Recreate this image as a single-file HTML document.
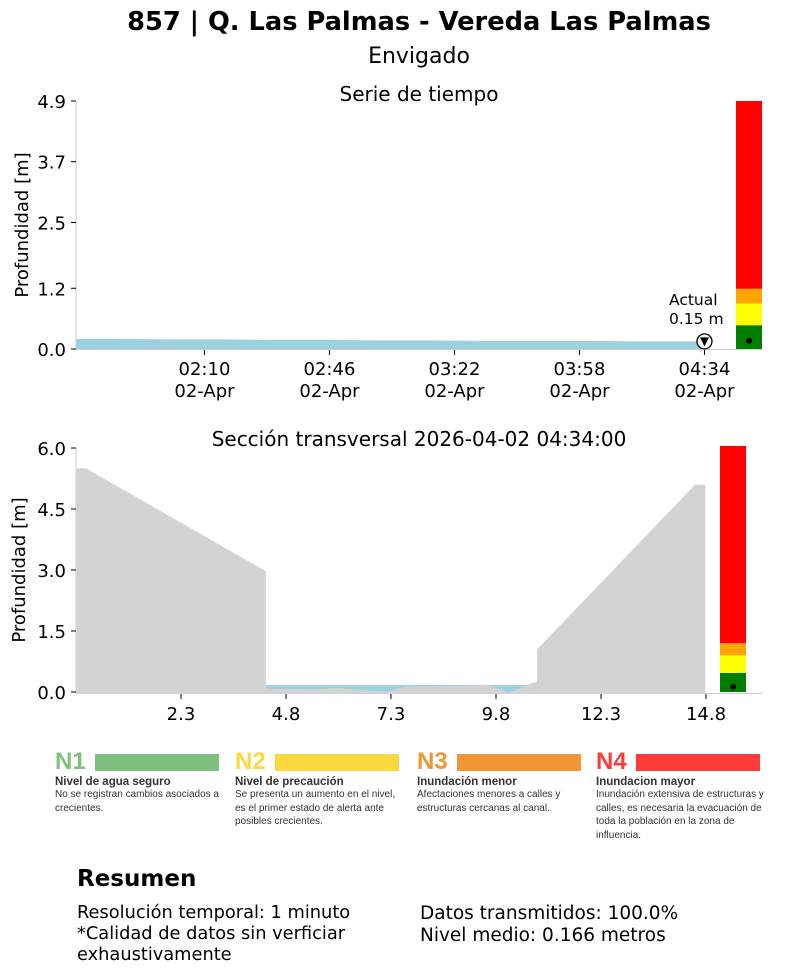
<!DOCTYPE html>
<html><head><meta charset="utf-8"><style>
body{margin:0;background:#fff;width:812px;height:973px;overflow:hidden;font-family:"DejaVu Sans","Liberation Sans",sans-serif;}
svg text{font-family:"DejaVu Sans","Liberation Sans",sans-serif;}
.lg{position:absolute;top:750px;width:170px;font-family:"Liberation Sans",sans-serif;}
.lg .n{font-size:24px;font-weight:bold;display:inline-block;width:40px;vertical-align:middle;line-height:24px}
.lg .bar{display:inline-block;width:124px;height:17px;vertical-align:middle}
.lg .h{font-size:11.5px;font-weight:bold;color:#333;margin-top:2px}
.lg .d{font-size:10px;color:#333;line-height:13.5px}
</style></head><body>
<svg id="chart" width="812" height="973" style="position:absolute;left:0;top:0">
<text x="419" y="30" text-anchor="middle" font-size="25.7" font-weight="bold">857 | Q. Las Palmas - Vereda Las Palmas</text>
<text x="419" y="63" text-anchor="middle" font-size="22">Envigado</text>
<text x="419" y="101" text-anchor="middle" font-size="20">Serie de tiempo</text>
<text x="419" y="446" text-anchor="middle" font-size="20">Sección transversal 2026-04-02 04:34:00</text>
<text transform="translate(28,225) rotate(-90)" text-anchor="middle" font-size="18">Profundidad [m]</text>
<text transform="translate(25,570) rotate(-90)" text-anchor="middle" font-size="18">Profundidad [m]</text>
<g id="ts"></g><g id="cs"></g>
</svg>

<div class="lg" style="left:55px"><span class="n" style="color:#7fc07f">N1</span><span class="bar" style="background:#7fc07f"></span><div class="h">Nivel de agua seguro</div><div class="d">No se registran cambios asociados a crecientes.</div></div>
<div class="lg" style="left:235px"><span class="n" style="color:#f9d93f">N2</span><span class="bar" style="background:#f9d93f"></span><div class="h">Nivel de precaución</div><div class="d">Se presenta un aumento en el nivel, es el primer estado de alerta ante posibles crecientes.</div></div>
<div class="lg" style="left:417px"><span class="n" style="color:#f29537">N3</span><span class="bar" style="background:#f29537"></span><div class="h">Inundación menor</div><div class="d">Afectaciones menores a calles y estructuras cercanas al canal.</div></div>
<div class="lg" style="left:596px;width:170px"><span class="n" style="color:#fd3b3b">N4</span><span class="bar" style="background:#fd3b3b"></span><div class="h">Inundacion mayor</div><div class="d">Inundación extensiva de estructuras y calles, es necesaria la evacuación de toda la población en la zona de influencia.</div></div>

<div style="position:absolute;left:77px;top:866px;font-size:23px;font-weight:bold">Resumen</div>
<div style="position:absolute;left:77px;top:902px;font-size:17.8px;line-height:21px">Resolución temporal: 1 minuto<br>*Calidad de datos sin verficiar<br>exhaustivamente</div>
<div style="position:absolute;left:420px;top:903px;font-size:18.5px;line-height:22px">Datos transmitidos: 100.0%<br>Nivel medio: 0.166 metros</div>

<script>
// time series (minutes from 00:00)
const tsTimes=[93,105,120,135,150,165,180,195,210,225,240,255,274];
const tsValues=[0.20,0.20,0.19,0.19,0.18,0.18,0.17,0.17,0.16,0.16,0.16,0.15,0.15];
const tsTickMins=[130,166,202,238,274];
const tsTickLabels=['02:10','02:46','03:22','03:58','04:34'];
const tsYTicks=[0.0,1.2,2.5,3.7,4.9];
const levels=[0.47,0.9,1.19,4.9];
const levelColors=['#008000','#ffff00','#ffa500','#ff0000'];
const currentValue=0.15;
// cross section
const groundX=[-0.2,0.04,4.32,4.32,5.5,6.0,7.2,7.6,9.3,9.6,10.1,10.6,10.78,10.78,14.54,14.78,14.78];
const groundY=[5.5,5.5,2.97,0.08,0.06,0.1,0.0,0.12,0.15,0.18,-0.02,0.2,0.25,1.05,5.1,5.1,0];
const csXTicks=[2.3,4.8,7.3,9.8,12.3,14.8];
const csYTicks=[0.0,1.5,3.0,4.5,6.0];
const waterLevel=0.17;
const csLevels=[0.47,0.9,1.2,6.05];

const NS='http://www.w3.org/2000/svg';
function mk(p,t,a){const e=document.createElementNS(NS,t);for(const k in a)e.setAttribute(k,a[k]);p.appendChild(e);return e;}
const tx=m=>76+(m-93)*(125/36), ty=v=>349-v*(248/4.9);
const ts=document.getElementById('ts');
let l=mk(ts,'line',{x1:76,y1:101,x2:76,y2:349,stroke:'#ccc'});

l=mk(ts,'line',{x1:76,y1:349.5,x2:762,y2:349.5,stroke:'#ccc'});

let d='M'+tx(tsTimes[0])+','+ty(0);
tsTimes.forEach((t,i)=>d+=' L'+tx(t)+','+ty(tsValues[i]));
d+=' L'+tx(tsTimes[tsTimes.length-1])+','+ty(0)+'Z';
let a=mk(ts,'path',{d:d,fill:'#9cd1e0'});

tsYTicks.forEach(v=>{mk(ts,'line',{x1:71,x2:76,y1:ty(v),y2:ty(v),stroke:'#000'});
 const t=mk(ts,'text',{x:66,y:ty(v)+7,'text-anchor':'end','font-size':18});t.textContent=v.toFixed(1);
 });
tsTickMins.forEach((m,i)=>{mk(ts,'line',{x1:tx(m),x2:tx(m),y1:350,y2:355,stroke:'#000'});
 const t=mk(ts,'text',{x:tx(m),y:375,'text-anchor':'middle','font-size':18});t.textContent=tsTickLabels[i];
 
 const t2=mk(ts,'text',{x:tx(m),y:397,'text-anchor':'middle','font-size':18});t2.textContent='02-Apr';
 });
let prev=0;levels.forEach((v,i)=>{const r=mk(ts,'rect',{x:736,width:26,y:ty(v),height:ty(prev)-ty(v),fill:levelColors[i]});
 prev=v;});
mk(ts,'circle',{cx:749,cy:ty(currentValue)-0.5,r:3,fill:'#000'});
const cx=tx(tsTimes[tsTimes.length-1]);const cy=ty(currentValue);
let c=mk(ts,'circle',{cx:cx,cy:cy,r:7.5,fill:'#fff',stroke:'#000','stroke-width':1.3});

mk(ts,'path',{d:`M${cx-4.5},${cy-4} L${cx+4.5},${cy-4} L${cx},${cy+5}Z`,fill:'#000'});
let t=mk(ts,'text',{x:669,y:305,'font-size':15.5});t.textContent='Actual';
t=mk(ts,'text',{x:669,y:324,'font-size':15.5});t.textContent=currentValue.toFixed(2)+' m';

const sx=v=>76+(v+0.2)*42, sy=v=>692-v*(244/6);
const cs=document.getElementById('cs');
l=mk(cs,'line',{x1:76,y1:448,x2:76,y2:693,stroke:'#ccc'});

l=mk(cs,'line',{x1:76,y1:693.5,x2:762,y2:693.5,stroke:'#ccc'});

let w=mk(cs,'rect',{x:sx(4.32),width:sx(10.78)-sx(4.32),y:sy(waterLevel),height:sy(-0.05)-sy(waterLevel),fill:'#9cd1e0'});

d='M'+sx(groundX[0])+','+sy(-0.05);
groundX.forEach((x,i)=>d+=' L'+sx(x)+','+sy(groundY[i]));
d+=' L'+sx(groundX[groundX.length-1])+','+sy(-0.05)+'Z';
a=mk(cs,'path',{d:d,fill:'#d3d3d3'});

csYTicks.forEach(v=>{mk(cs,'line',{x1:71,x2:76,y1:sy(v),y2:sy(v),stroke:'#000'});
 const t=mk(cs,'text',{x:66,y:sy(v)+7,'text-anchor':'end','font-size':18});t.textContent=v.toFixed(1);
 });
csXTicks.forEach(v=>{mk(cs,'line',{x1:sx(v),x2:sx(v),y1:694,y2:699,stroke:'#000'});
 const t=mk(cs,'text',{x:sx(v),y:720,'text-anchor':'middle','font-size':18});t.textContent=v.toFixed(1);
 });
prev=0;csLevels.forEach((v,i)=>{const r=mk(cs,'rect',{x:720,width:26,y:sy(v),height:sy(prev)-sy(v),fill:levelColors[i]});
 prev=v;});
mk(cs,'circle',{cx:733,cy:sy(currentValue)+1,r:3,fill:'#000'});
</script>
</body></html>
